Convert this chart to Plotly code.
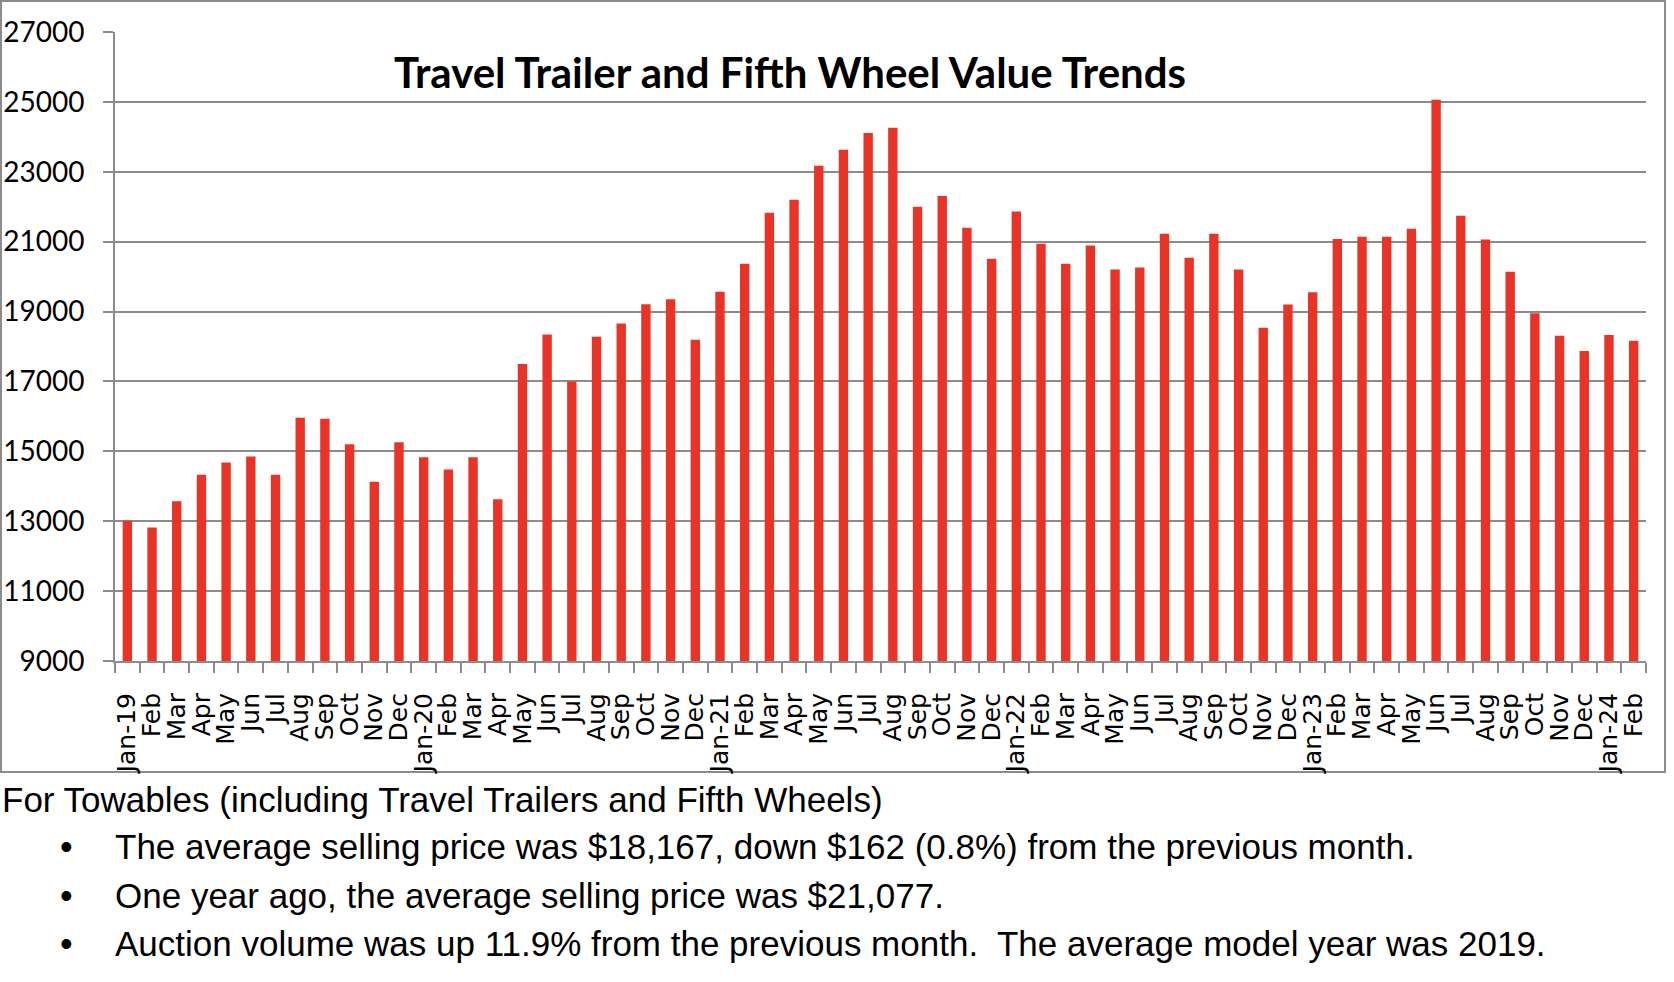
import plotly.graph_objects as go

# ---- data ----
months = ["Jan-19", "Feb", "Mar", "Apr", "May", "Jun", "Jul", "Aug", "Sep", "Oct", "Nov", "Dec",
          "Jan-20", "Feb", "Mar", "Apr", "May", "Jun", "Jul", "Aug", "Sep", "Oct", "Nov", "Dec",
          "Jan-21", "Feb", "Mar", "Apr", "May", "Jun", "Jul", "Aug", "Sep", "Oct", "Nov", "Dec",
          "Jan-22", "Feb", "Mar", "Apr", "May", "Jun", "Jul", "Aug", "Sep", "Oct", "Nov", "Dec",
          "Jan-23", "Feb", "Mar", "Apr", "May", "Jun", "Jul", "Aug", "Sep", "Oct", "Nov", "Dec",
          "Jan-24", "Feb"]
values = [13010, 12820, 13570, 14330, 14680, 14850, 14330, 15960, 15930, 15200, 14130, 15260,
          14830, 14480, 14830, 13630, 17500, 18340, 17000, 18280, 18660, 19210, 19350, 18190,
          19570, 20370, 21830, 22200, 23170, 23630, 24110, 24260, 22000, 22310, 21400, 20510,
          21860, 20940, 20370, 20890, 20200, 20260, 21230, 20540, 21230, 20200, 18540, 19200,
          19550, 21077, 21140, 21140, 21370, 25060, 21740, 21060, 20140, 18950, 18310, 17870,
          18329, 18167]
y_ticks = [9000, 11000, 13000, 15000, 17000, 19000, 21000, 23000, 25000, 27000]
title_text = "Travel Trailer and Fifth Wheel Value Trends"
heading = "For Towables (including Travel Trailers and Fifth Wheels)"
bullets = ["The average selling price was $18,167, down $162 (0.8%) from the previous month.",
           "One year ago, the average selling price was $21,077.",
           "Auction volume was up 11.9% from the previous month.  The average model year was 2019."]

# ---- layout geometry (pixels) ----
W, H = 1674, 982
L, R, T, B = 115, 1646, 32, 661
GRAY = "#8c8c8c"

def px(x):
    return (x - L) / (R - L)

def py(y):
    return (B - y) / (B - T)

idx = list(range(len(values)))

fig = go.Figure()
fig.add_trace(go.Bar(x=idx, y=values, marker=dict(color="#E93326", line=dict(width=0)),
                     width=0.38, hoverinfo="x+y"))

fig.update_layout(
    width=W, height=H,
    margin=dict(l=L, r=W - R, t=T, b=H - B, autoexpand=False),
    paper_bgcolor="white", plot_bgcolor="white",
    showlegend=False,
)
fig.update_xaxes(
    automargin=False,
    range=[-0.5, len(values) - 0.5],
    tickmode="array", tickvals=idx, ticktext=months,
    tickangle=-90, ticks="outside", ticklen=10, tickcolor="rgba(0,0,0,0)",
    ticklabelstandoff=10,
    tickfont=dict(family="DejaVu Sans", size=25, color="black"),
    showgrid=False, zeroline=False,
    showline=True, linecolor=GRAY, linewidth=2,
    minor=dict(tickmode="array", tickvals=[i - 0.5 for i in range(len(values) + 1)],
               ticks="outside", ticklen=10, tickwidth=2, tickcolor=GRAY, showgrid=False),
)
fig.update_yaxes(
    automargin=False,
    range=[y_ticks[0], y_ticks[-1]],
    tickmode="array", tickvals=y_ticks, ticktext=[str(v) for v in y_ticks],
    ticks="outside", ticklen=10, tickwidth=2, tickcolor=GRAY,
    ticklabelstandoff=13,
    tickfont=dict(family="Lato", size=28, color="black"),
    showgrid=True, gridcolor=GRAY, gridwidth=2,
    zeroline=False, showline=True, linecolor=GRAY, linewidth=2,
)

# outer chart border
fig.add_shape(type="rect", xref="paper", yref="paper",
              x0=px(1), x1=px(1665), y0=py(772), y1=py(1),
              line=dict(color=GRAY, width=2), fillcolor="rgba(0,0,0,0)", layer="below")

# title
fig.add_annotation(text="<b>" + title_text + "</b>", xref="paper", yref="paper",
                   x=px(790), y=py(72), xanchor="center", yanchor="middle", showarrow=False,
                   font=dict(family="Lato", size=42, color="black"))

# bottom text
fig.add_annotation(text=heading, xref="paper", yref="paper", x=px(0), y=py(799),
                   xanchor="left", yanchor="middle", showarrow=False,
                   font=dict(family="Liberation Sans", size=35, color="black"))
line_y = [846, 895, 943]
for t, yy in zip(bullets, line_y):
    fig.add_annotation(text="\u2022", xref="paper", yref="paper", x=px(66), y=py(yy),
                       xanchor="center", yanchor="middle", showarrow=False,
                       font=dict(family="Liberation Sans", size=36, color="black"))
    fig.add_annotation(text=t, xref="paper", yref="paper", x=px(113), y=py(yy),
                       xanchor="left", yanchor="middle", showarrow=False,
                       font=dict(family="Liberation Sans", size=35, color="black"))

fig.write_html("out.html", config={"displayModeBar": False},
               post_script="document.body.style.margin='0px';")
